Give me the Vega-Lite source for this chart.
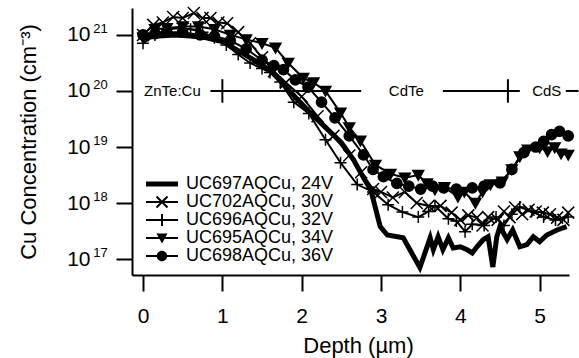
{
"$schema": "https://vega.github.io/schema/vega-lite/v6.json",
"width": 437, "height": 267,
"autosize": {"type": "none"},
"padding": {"left": 132, "top": 8, "right": 10, "bottom": 83},
"background": "white",
"config": {
  "view": {"stroke": null},
  "font": "Liberation Sans",
  "axis": {"domainColor": "black", "domainWidth": 2, "tickColor": "black", "tickWidth": 2, "tickSize": 16, "labelColor": "black", "labelFont": "Liberation Sans", "labelFontSize": 21, "titleFont": "Liberation Sans", "titleFontSize": 22, "titleColor": "black", "titleFontWeight": "normal", "grid": false}
},
"datasets": {
  "profiles": [
    {"series": "UC697AQCu, 24V", "depth": 0, "conc": 8.91e20},
    {"series": "UC697AQCu, 24V", "depth": 0.2, "conc": 9.55e20},
    {"series": "UC697AQCu, 24V", "depth": 0.4, "conc": 1.0e21},
    {"series": "UC697AQCu, 24V", "depth": 0.6, "conc": 9.55e20},
    {"series": "UC697AQCu, 24V", "depth": 0.8, "conc": 8.91e20},
    {"series": "UC697AQCu, 24V", "depth": 1.0, "conc": 7.59e20},
    {"series": "UC697AQCu, 24V", "depth": 1.2, "conc": 5.25e20},
    {"series": "UC697AQCu, 24V", "depth": 1.4, "conc": 3.55e20},
    {"series": "UC697AQCu, 24V", "depth": 1.5, "conc": 2.82e20},
    {"series": "UC697AQCu, 24V", "depth": 1.6, "conc": 2.40e20},
    {"series": "UC697AQCu, 24V", "depth": 1.75, "conc": 1.41e20},
    {"series": "UC697AQCu, 24V", "depth": 1.9, "conc": 8.32e19},
    {"series": "UC697AQCu, 24V", "depth": 2.1, "conc": 4.17e19},
    {"series": "UC697AQCu, 24V", "depth": 2.3, "conc": 2.24e19},
    {"series": "UC697AQCu, 24V", "depth": 2.5, "conc": 1.20e19},
    {"series": "UC697AQCu, 24V", "depth": 2.65, "conc": 6.03e18},
    {"series": "UC697AQCu, 24V", "depth": 2.78, "conc": 2.82e18},
    {"series": "UC697AQCu, 24V", "depth": 2.87, "conc": 1.74e18},
    {"series": "UC697AQCu, 24V", "depth": 2.99, "conc": 3.80e17},
    {"series": "UC697AQCu, 24V", "depth": 3.08, "conc": 2.69e17},
    {"series": "UC697AQCu, 24V", "depth": 3.28, "conc": 2.40e17},
    {"series": "UC697AQCu, 24V", "depth": 3.49, "conc": 7.08e16},
    {"series": "UC697AQCu, 24V", "depth": 3.62, "conc": 2.40e17},
    {"series": "UC697AQCu, 24V", "depth": 3.66, "conc": 1.48e17},
    {"series": "UC697AQCu, 24V", "depth": 3.72, "conc": 2.51e17},
    {"series": "UC697AQCu, 24V", "depth": 3.78, "conc": 1.48e17},
    {"series": "UC697AQCu, 24V", "depth": 3.85, "conc": 2.40e17},
    {"series": "UC697AQCu, 24V", "depth": 3.91, "conc": 1.58e17},
    {"series": "UC697AQCu, 24V", "depth": 4.0, "conc": 1.66e17},
    {"series": "UC697AQCu, 24V", "depth": 4.08, "conc": 1.48e17},
    {"series": "UC697AQCu, 24V", "depth": 4.15, "conc": 1.29e17},
    {"series": "UC697AQCu, 24V", "depth": 4.21, "conc": 1.66e17},
    {"series": "UC697AQCu, 24V", "depth": 4.29, "conc": 2.24e17},
    {"series": "UC697AQCu, 24V", "depth": 4.35, "conc": 2.51e17},
    {"series": "UC697AQCu, 24V", "depth": 4.41, "conc": 7.24e16},
    {"series": "UC697AQCu, 24V", "depth": 4.46, "conc": 2.51e17},
    {"series": "UC697AQCu, 24V", "depth": 4.5, "conc": 3.80e17},
    {"series": "UC697AQCu, 24V", "depth": 4.59, "conc": 2.24e17},
    {"series": "UC697AQCu, 24V", "depth": 4.66, "conc": 3.31e17},
    {"series": "UC697AQCu, 24V", "depth": 4.75, "conc": 1.66e17},
    {"series": "UC697AQCu, 24V", "depth": 4.84, "conc": 1.82e17},
    {"series": "UC697AQCu, 24V", "depth": 4.92, "conc": 2.51e17},
    {"series": "UC697AQCu, 24V", "depth": 5.0, "conc": 2.04e17},
    {"series": "UC697AQCu, 24V", "depth": 5.09, "conc": 2.69e17},
    {"series": "UC697AQCu, 24V", "depth": 5.22, "conc": 3.31e17},
    {"series": "UC697AQCu, 24V", "depth": 5.34, "conc": 3.80e17},

    {"series": "UC702AQCu, 30V", "depth": 0, "conc": 1.0e21},
    {"series": "UC702AQCu, 30V", "depth": 0.13, "conc": 1.51e21},
    {"series": "UC702AQCu, 30V", "depth": 0.25, "conc": 1.66e21},
    {"series": "UC702AQCu, 30V", "depth": 0.38, "conc": 2.09e21},
    {"series": "UC702AQCu, 30V", "depth": 0.5, "conc": 2.0e21},
    {"series": "UC702AQCu, 30V", "depth": 0.64, "conc": 2.45e21},
    {"series": "UC702AQCu, 30V", "depth": 0.75, "conc": 2.0e21},
    {"series": "UC702AQCu, 30V", "depth": 0.85, "conc": 2.0e21},
    {"series": "UC702AQCu, 30V", "depth": 0.95, "conc": 1.66e21},
    {"series": "UC702AQCu, 30V", "depth": 1.06, "conc": 1.62e21},
    {"series": "UC702AQCu, 30V", "depth": 1.2, "conc": 1.12e21},
    {"series": "UC702AQCu, 30V", "depth": 1.35, "conc": 7.08e20},
    {"series": "UC702AQCu, 30V", "depth": 1.5, "conc": 3.98e20},
    {"series": "UC702AQCu, 30V", "depth": 1.65, "conc": 2.24e20},
    {"series": "UC702AQCu, 30V", "depth": 1.8, "conc": 1.41e20},
    {"series": "UC702AQCu, 30V", "depth": 2.0, "conc": 7.94e19},
    {"series": "UC702AQCu, 30V", "depth": 2.2, "conc": 3.55e19},
    {"series": "UC702AQCu, 30V", "depth": 2.4, "conc": 1.58e19},
    {"series": "UC702AQCu, 30V", "depth": 2.6, "conc": 7.08e18},
    {"series": "UC702AQCu, 30V", "depth": 2.75, "conc": 3.55e18},
    {"series": "UC702AQCu, 30V", "depth": 2.9, "conc": 1.78e18},
    {"series": "UC702AQCu, 30V", "depth": 3.0, "conc": 1.58e18},
    {"series": "UC702AQCu, 30V", "depth": 3.15, "conc": 1.26e18},
    {"series": "UC702AQCu, 30V", "depth": 3.3, "conc": 1.58e18},
    {"series": "UC702AQCu, 30V", "depth": 3.45, "conc": 1.0e18},
    {"series": "UC702AQCu, 30V", "depth": 3.6, "conc": 8.91e17},
    {"series": "UC702AQCu, 30V", "depth": 3.75, "conc": 8.91e17},
    {"series": "UC702AQCu, 30V", "depth": 3.89, "conc": 6.76e17},
    {"series": "UC702AQCu, 30V", "depth": 4.0, "conc": 5.01e17},
    {"series": "UC702AQCu, 30V", "depth": 4.1, "conc": 6.03e17},
    {"series": "UC702AQCu, 30V", "depth": 4.21, "conc": 5.50e17},
    {"series": "UC702AQCu, 30V", "depth": 4.28, "conc": 3.98e17},
    {"series": "UC702AQCu, 30V", "depth": 4.35, "conc": 5.62e17},
    {"series": "UC702AQCu, 30V", "depth": 4.47, "conc": 5.01e17},
    {"series": "UC702AQCu, 30V", "depth": 4.55, "conc": 7.08e17},
    {"series": "UC702AQCu, 30V", "depth": 4.62, "conc": 5.62e17},
    {"series": "UC702AQCu, 30V", "depth": 4.69, "conc": 8.32e17},
    {"series": "UC702AQCu, 30V", "depth": 4.78, "conc": 6.31e17},
    {"series": "UC702AQCu, 30V", "depth": 4.86, "conc": 7.59e17},
    {"series": "UC702AQCu, 30V", "depth": 4.95, "conc": 7.08e17},
    {"series": "UC702AQCu, 30V", "depth": 5.04, "conc": 6.76e17},
    {"series": "UC702AQCu, 30V", "depth": 5.13, "conc": 6.31e17},
    {"series": "UC702AQCu, 30V", "depth": 5.22, "conc": 5.50e17},
    {"series": "UC702AQCu, 30V", "depth": 5.3, "conc": 5.01e17},
    {"series": "UC702AQCu, 30V", "depth": 5.36, "conc": 6.76e17},

    {"series": "UC696AQCu, 32V", "depth": 0, "conc": 7.08e20},
    {"series": "UC696AQCu, 32V", "depth": 0.15, "conc": 1.0e21},
    {"series": "UC696AQCu, 32V", "depth": 0.3, "conc": 1.26e21},
    {"series": "UC696AQCu, 32V", "depth": 0.45, "conc": 1.32e21},
    {"series": "UC696AQCu, 32V", "depth": 0.6, "conc": 1.26e21},
    {"series": "UC696AQCu, 32V", "depth": 0.75, "conc": 1.12e21},
    {"series": "UC696AQCu, 32V", "depth": 0.9, "conc": 8.91e20},
    {"series": "UC696AQCu, 32V", "depth": 1.05, "conc": 6.61e20},
    {"series": "UC696AQCu, 32V", "depth": 1.2, "conc": 4.47e20},
    {"series": "UC696AQCu, 32V", "depth": 1.35, "conc": 3.16e20},
    {"series": "UC696AQCu, 32V", "depth": 1.5, "conc": 2.51e20},
    {"series": "UC696AQCu, 32V", "depth": 1.6, "conc": 2.14e20},
    {"series": "UC696AQCu, 32V", "depth": 1.73, "conc": 1.45e20},
    {"series": "UC696AQCu, 32V", "depth": 1.9, "conc": 6.31e19},
    {"series": "UC696AQCu, 32V", "depth": 2.09, "conc": 3.98e19},
    {"series": "UC696AQCu, 32V", "depth": 2.3, "conc": 1.35e19},
    {"series": "UC696AQCu, 32V", "depth": 2.49, "conc": 5.25e18},
    {"series": "UC696AQCu, 32V", "depth": 2.7, "conc": 2.14e18},
    {"series": "UC696AQCu, 32V", "depth": 2.9, "conc": 1.58e18},
    {"series": "UC696AQCu, 32V", "depth": 3.09, "conc": 9.33e17},
    {"series": "UC696AQCu, 32V", "depth": 3.27, "conc": 6.92e17},
    {"series": "UC696AQCu, 32V", "depth": 3.47, "conc": 5.62e17},
    {"series": "UC696AQCu, 32V", "depth": 3.6, "conc": 7.08e17},
    {"series": "UC696AQCu, 32V", "depth": 3.68, "conc": 8.91e17},
    {"series": "UC696AQCu, 32V", "depth": 3.85, "conc": 5.25e17},
    {"series": "UC696AQCu, 32V", "depth": 3.95, "conc": 4.79e17},
    {"series": "UC696AQCu, 32V", "depth": 4.06, "conc": 3.09e17},
    {"series": "UC696AQCu, 32V", "depth": 4.15, "conc": 4.17e17},
    {"series": "UC696AQCu, 32V", "depth": 4.3, "conc": 3.98e17},
    {"series": "UC696AQCu, 32V", "depth": 4.45, "conc": 5.62e17},
    {"series": "UC696AQCu, 32V", "depth": 4.55, "conc": 3.98e17},
    {"series": "UC696AQCu, 32V", "depth": 4.65, "conc": 6.31e17},
    {"series": "UC696AQCu, 32V", "depth": 4.75, "conc": 8.51e17},
    {"series": "UC696AQCu, 32V", "depth": 4.9, "conc": 7.08e17},
    {"series": "UC696AQCu, 32V", "depth": 5.05, "conc": 5.62e17},
    {"series": "UC696AQCu, 32V", "depth": 5.2, "conc": 5.01e17},
    {"series": "UC696AQCu, 32V", "depth": 5.36, "conc": 5.62e17},

    {"series": "UC695AQCu, 34V", "depth": 0, "conc": 8.91e20},
    {"series": "UC695AQCu, 34V", "depth": 0.15, "conc": 1.26e21},
    {"series": "UC695AQCu, 34V", "depth": 0.3, "conc": 1.32e21},
    {"series": "UC695AQCu, 34V", "depth": 0.5, "conc": 1.41e21},
    {"series": "UC695AQCu, 34V", "depth": 0.7, "conc": 1.41e21},
    {"series": "UC695AQCu, 34V", "depth": 0.9, "conc": 1.26e21},
    {"series": "UC695AQCu, 34V", "depth": 1.1, "conc": 1.0e21},
    {"series": "UC695AQCu, 34V", "depth": 1.3, "conc": 8.32e20},
    {"series": "UC695AQCu, 34V", "depth": 1.5, "conc": 7.08e20},
    {"series": "UC695AQCu, 34V", "depth": 1.67, "conc": 5.89e20},
    {"series": "UC695AQCu, 34V", "depth": 1.83, "conc": 3.16e20},
    {"series": "UC695AQCu, 34V", "depth": 2.02, "conc": 1.70e20},
    {"series": "UC695AQCu, 34V", "depth": 2.15, "conc": 1.41e20},
    {"series": "UC695AQCu, 34V", "depth": 2.3, "conc": 1.0e20},
    {"series": "UC695AQCu, 34V", "depth": 2.49, "conc": 4.07e19},
    {"series": "UC695AQCu, 34V", "depth": 2.6, "conc": 2.24e19},
    {"series": "UC695AQCu, 34V", "depth": 2.74, "conc": 1.29e19},
    {"series": "UC695AQCu, 34V", "depth": 2.93, "conc": 4.79e18},
    {"series": "UC695AQCu, 34V", "depth": 3.12, "conc": 3.31e18},
    {"series": "UC695AQCu, 34V", "depth": 3.3, "conc": 2.82e18},
    {"series": "UC695AQCu, 34V", "depth": 3.47, "conc": 3.16e18},
    {"series": "UC695AQCu, 34V", "depth": 3.58, "conc": 2.24e18},
    {"series": "UC695AQCu, 34V", "depth": 3.68, "conc": 1.74e18},
    {"series": "UC695AQCu, 34V", "depth": 3.8, "conc": 1.91e18},
    {"series": "UC695AQCu, 34V", "depth": 3.97, "conc": 1.29e18},
    {"series": "UC695AQCu, 34V", "depth": 4.05, "conc": 1.58e18},
    {"series": "UC695AQCu, 34V", "depth": 4.19, "conc": 1.0e18},
    {"series": "UC695AQCu, 34V", "depth": 4.28, "conc": 1.58e18},
    {"series": "UC695AQCu, 34V", "depth": 4.38, "conc": 2.14e18},
    {"series": "UC695AQCu, 34V", "depth": 4.53, "conc": 2.40e18},
    {"series": "UC695AQCu, 34V", "depth": 4.65, "conc": 3.98e18},
    {"series": "UC695AQCu, 34V", "depth": 4.75, "conc": 6.76e18},
    {"series": "UC695AQCu, 34V", "depth": 4.85, "conc": 8.91e18},
    {"series": "UC695AQCu, 34V", "depth": 5.0, "conc": 9.77e18},
    {"series": "UC695AQCu, 34V", "depth": 5.1, "conc": 8.32e18},
    {"series": "UC695AQCu, 34V", "depth": 5.19, "conc": 9.77e18},
    {"series": "UC695AQCu, 34V", "depth": 5.27, "conc": 7.59e18},
    {"series": "UC695AQCu, 34V", "depth": 5.36, "conc": 7.24e18},

    {"series": "UC698AQCu, 36V", "depth": 0, "conc": 1.0e21},
    {"series": "UC698AQCu, 36V", "depth": 0.15, "conc": 1.05e21},
    {"series": "UC698AQCu, 36V", "depth": 0.3, "conc": 1.12e21},
    {"series": "UC698AQCu, 36V", "depth": 0.5, "conc": 1.12e21},
    {"series": "UC698AQCu, 36V", "depth": 0.72, "conc": 1.0e21},
    {"series": "UC698AQCu, 36V", "depth": 0.9, "conc": 9.55e20},
    {"series": "UC698AQCu, 36V", "depth": 1.1, "conc": 7.94e20},
    {"series": "UC698AQCu, 36V", "depth": 1.3, "conc": 5.62e20},
    {"series": "UC698AQCu, 36V", "depth": 1.5, "conc": 3.55e20},
    {"series": "UC698AQCu, 36V", "depth": 1.65, "conc": 2.82e20},
    {"series": "UC698AQCu, 36V", "depth": 1.77, "conc": 2.40e20},
    {"series": "UC698AQCu, 36V", "depth": 1.92, "conc": 1.58e20},
    {"series": "UC698AQCu, 36V", "depth": 2.08, "conc": 1.17e20},
    {"series": "UC698AQCu, 36V", "depth": 2.25, "conc": 6.31e19},
    {"series": "UC698AQCu, 36V", "depth": 2.42, "conc": 3.31e19},
    {"series": "UC698AQCu, 36V", "depth": 2.6, "conc": 1.58e19},
    {"series": "UC698AQCu, 36V", "depth": 2.78, "conc": 7.24e18},
    {"series": "UC698AQCu, 36V", "depth": 2.9, "conc": 3.98e18},
    {"series": "UC698AQCu, 36V", "depth": 3.03, "conc": 2.95e18},
    {"series": "UC698AQCu, 36V", "depth": 3.2, "conc": 2.24e18},
    {"series": "UC698AQCu, 36V", "depth": 3.35, "conc": 2.0e18},
    {"series": "UC698AQCu, 36V", "depth": 3.5, "conc": 1.78e18},
    {"series": "UC698AQCu, 36V", "depth": 3.65, "conc": 2.0e18},
    {"series": "UC698AQCu, 36V", "depth": 3.79, "conc": 1.86e18},
    {"series": "UC698AQCu, 36V", "depth": 3.95, "conc": 1.78e18},
    {"series": "UC698AQCu, 36V", "depth": 4.15, "conc": 1.86e18},
    {"series": "UC698AQCu, 36V", "depth": 4.3, "conc": 2.0e18},
    {"series": "UC698AQCu, 36V", "depth": 4.5, "conc": 2.29e18},
    {"series": "UC698AQCu, 36V", "depth": 4.65, "conc": 3.98e18},
    {"series": "UC698AQCu, 36V", "depth": 4.8, "conc": 7.94e18},
    {"series": "UC698AQCu, 36V", "depth": 4.95, "conc": 1.0e19},
    {"series": "UC698AQCu, 36V", "depth": 5.05, "conc": 1.26e19},
    {"series": "UC698AQCu, 36V", "depth": 5.15, "conc": 1.66e19},
    {"series": "UC698AQCu, 36V", "depth": 5.25, "conc": 1.91e19},
    {"series": "UC698AQCu, 36V", "depth": 5.36, "conc": 1.58e19}
  ],
  "annot": [
    {"depth": 0.85, "depth2": 2.75, "conc": 1e20, "conc2": 1e20},
    {"depth": 3.78, "depth2": 4.75, "conc": 1e20, "conc2": 1e20},
    {"depth": 5.33, "depth2": 5.49, "conc": 1e20, "conc2": 1e20},
    {"depth": 1.0, "depth2": 1.0, "conc": 6.17e19, "conc2": 1.62e20},
    {"depth": 4.6, "depth2": 4.6, "conc": 6.17e19, "conc2": 1.62e20}
  ],
  "labels": [
    {"label": "ZnTe:Cu", "depth": 0.37, "conc": 1e20},
    {"label": "CdTe", "depth": 3.32, "conc": 1e20},
    {"label": "CdS", "depth": 5.09, "conc": 1e20}
  ]
},
"layer": [
  {
    "data": {"name": "annot"},
    "mark": {"type": "rule", "color": "black", "strokeWidth": 2},
    "encoding": {
      "x": {"field": "depth", "type": "quantitative", "scale": {"domain": [-0.139, 5.37], "nice": false, "zero": false},
            "axis": {"values": [0, 1, 2, 3, 4, 5], "format": "d", "labelBaseline": "alphabetic", "labelPadding": 31.7, "title": "Depth (µm)", "titleX": 226, "titleY": 77.7, "titleBaseline": "alphabetic", "titleAlign": "center"}},
      "x2": {"field": "depth2"},
      "y": {"field": "conc", "type": "quantitative", "scale": {"type": "log", "domain": [5.21e16, 3.02e21], "nice": false}, "axis": null},
      "y2": {"field": "conc2"}
    }
  },
  {
    "data": {"name": "labels"},
    "mark": {"type": "text", "color": "black", "fontSize": 15, "font": "Liberation Sans", "align": "center", "baseline": "middle"},
    "encoding": {
      "x": {"field": "depth", "type": "quantitative", "scale": {"domain": [-0.139, 5.37], "nice": false, "zero": false},
            "axis": {"values": [0, 1, 2, 3, 4, 5], "format": "d", "labelBaseline": "alphabetic", "labelPadding": 31.7, "title": "Depth (µm)", "titleX": 226, "titleY": 77.7, "titleBaseline": "alphabetic", "titleAlign": "center"}},
      "y": {"field": "conc", "type": "quantitative", "scale": {"type": "log", "domain": [5.21e16, 3.02e21], "nice": false}, "axis": null},
      "text": {"field": "label"}
    }
  },
  {
    "data": {"name": "profiles"},
    "transform": [{"filter": "datum.series != 'UC697AQCu, 24V'"}],
    "mark": {"type": "line", "color": "black", "strokeWidth": 2},
    "encoding": {
      "x": {"field": "depth", "type": "quantitative", "scale": {"domain": [-0.139, 5.37], "nice": false, "zero": false},
            "axis": {"values": [0, 1, 2, 3, 4, 5], "format": "d", "labelBaseline": "alphabetic", "labelPadding": 31.7, "title": "Depth (µm)", "titleX": 226, "titleY": 77.7, "titleBaseline": "alphabetic", "titleAlign": "center"}},
      "y": {"field": "conc", "type": "quantitative", "scale": {"type": "log", "domain": [5.21e16, 3.02e21], "nice": false}, "axis": null},
      "detail": {"field": "series"}
    }
  },
  {
    "data": {"name": "profiles"},
    "transform": [{"filter": "datum.series == 'UC697AQCu, 24V'"}],
    "mark": {"type": "line", "color": "black", "strokeWidth": 5, "strokeJoin": "miter"},
    "encoding": {
      "x": {"field": "depth", "type": "quantitative", "scale": {"domain": [-0.139, 5.37], "nice": false, "zero": false},
            "axis": {"values": [0, 1, 2, 3, 4, 5], "format": "d", "labelBaseline": "alphabetic", "labelPadding": 31.7, "title": "Depth (µm)", "titleX": 226, "titleY": 77.7, "titleBaseline": "alphabetic", "titleAlign": "center"}},
      "y": {"field": "conc", "type": "quantitative", "scale": {"type": "log", "domain": [5.21e16, 3.02e21], "nice": false},
            "axis": {"orient": "left", "values": [1e17, 1e18, 1e19, 1e20, 1e21], "labelExpr": "format(log(datum.value)/LN10, '.0f')", "labelFontSize": 13, "labelPadding": 8.7, "labelOffset": -6.5, "labelAlign": "right", "title": "Cu Concentration (cm⁻³)", "titleX": -96.7, "titleY": 133.5, "titleBaseline": "alphabetic", "titleAngle": 270, "titleAlign": "center"}}
    }
  },
  {
    "data": {"name": "profiles"},
    "transform": [{"filter": "datum.series != 'UC697AQCu, 24V'"}],
    "mark": {"type": "point", "filled": true, "fill": "black", "stroke": "black", "strokeWidth": 1.5, "opacity": 1, "size": 144},
    "encoding": {
      "x": {"field": "depth", "type": "quantitative", "scale": {"domain": [-0.139, 5.37], "nice": false, "zero": false},
            "axis": {"values": [0, 1, 2, 3, 4, 5], "format": "d", "labelBaseline": "alphabetic", "labelPadding": 31.7, "title": "Depth (µm)", "titleX": 226, "titleY": 77.7, "titleBaseline": "alphabetic", "titleAlign": "center"}},
      "y": {"field": "conc", "type": "quantitative", "scale": {"type": "log", "domain": [5.21e16, 3.02e21], "nice": false}, "axis": null},
      "shape": {"field": "series", "type": "nominal", "legend": null,
        "scale": {"domain": ["UC702AQCu, 30V", "UC696AQCu, 32V", "UC695AQCu, 34V", "UC698AQCu, 36V"],
                  "range": ["M-1,-1L1,1M-1,1L1,-1", "M-1,0H1M0,-1V1", "M-0.9,-0.75L0.9,-0.75L0,0.85Z", "M0.85,0A0.85,0.85 0 1,1 -0.85,0A0.85,0.85 0 1,1 0.85,0Z"]}}
    }
  },
  {
    "data": {"name": "profiles"},
    "transform": [{"filter": "false"}],
    "mark": {"type": "point", "filled": true, "fill": "black", "opacity": 1},
    "encoding": {
      "x": {"field": "depth", "type": "quantitative", "scale": {"domain": [-0.139, 5.37], "nice": false, "zero": false},
            "axis": {"values": [0, 1, 2, 3, 4, 5], "format": "d", "labelBaseline": "alphabetic", "labelPadding": 31.7, "title": "Depth (µm)", "titleX": 226, "titleY": 77.7, "titleBaseline": "alphabetic", "titleAlign": "center"}},
      "y": {"field": "conc", "type": "quantitative", "scale": {"type": "log", "domain": [5.21e16, 3.02e21], "nice": false},
            "axis": {"orient": "left", "values": [1e17, 1e18, 1e19, 1e20, 1e21], "labelExpr": "'10'", "labelFontSize": 21, "labelPadding": 26, "labelAlign": "right", "domain": false, "tickOpacity": 0, "title": null}},
      "shape": {"field": "series", "type": "nominal",
        "scale": {"domain": ["UC697AQCu, 24V", "UC702AQCu, 30V", "UC696AQCu, 32V", "UC695AQCu, 34V", "UC698AQCu, 36V"],
                  "range": [
                    "M-3.2,-0.5H3.2V0.5H-3.2Z",
                    "M-3.2,-0.2H3.2V0.2H-3.2ZM-0.96,-1.24L1.24,0.96L0.96,1.24L-1.24,-0.96ZM-1.24,0.96L0.96,-1.24L1.24,-0.96L-0.96,1.24Z",
                    "M-3.2,-0.2H3.2V0.2H-3.2ZM-0.2,-1.2H0.2V1.2H-0.2Z",
                    "M-3.2,-0.2H3.2V0.2H-3.2ZM-1.1,-0.9L1.1,-0.9L0,1.1Z",
                    "M-3.2,-0.2H3.2V0.2H-3.2ZM1.05,0A1.05,1.05 0 1,1 -1.05,0A1.05,1.05 0 1,1 1.05,0Z"]},
        "legend": {"orient": "none", "legendX": 21, "legendY": 167, "title": null, "labelFont": "Liberation Sans", "labelFontSize": 18, "labelColor": "black", "labelLimit": 400, "symbolSize": 100, "rowPadding": 0, "labelOffset": 15, "padding": 0, "symbolStrokeWidth": 0, "symbolFillColor": "black", "symbolOpacity": 1}}
    }
  }
],
"resolve": {"axis": {"y": "independent"}, "scale": {"shape": "independent"}}
}
